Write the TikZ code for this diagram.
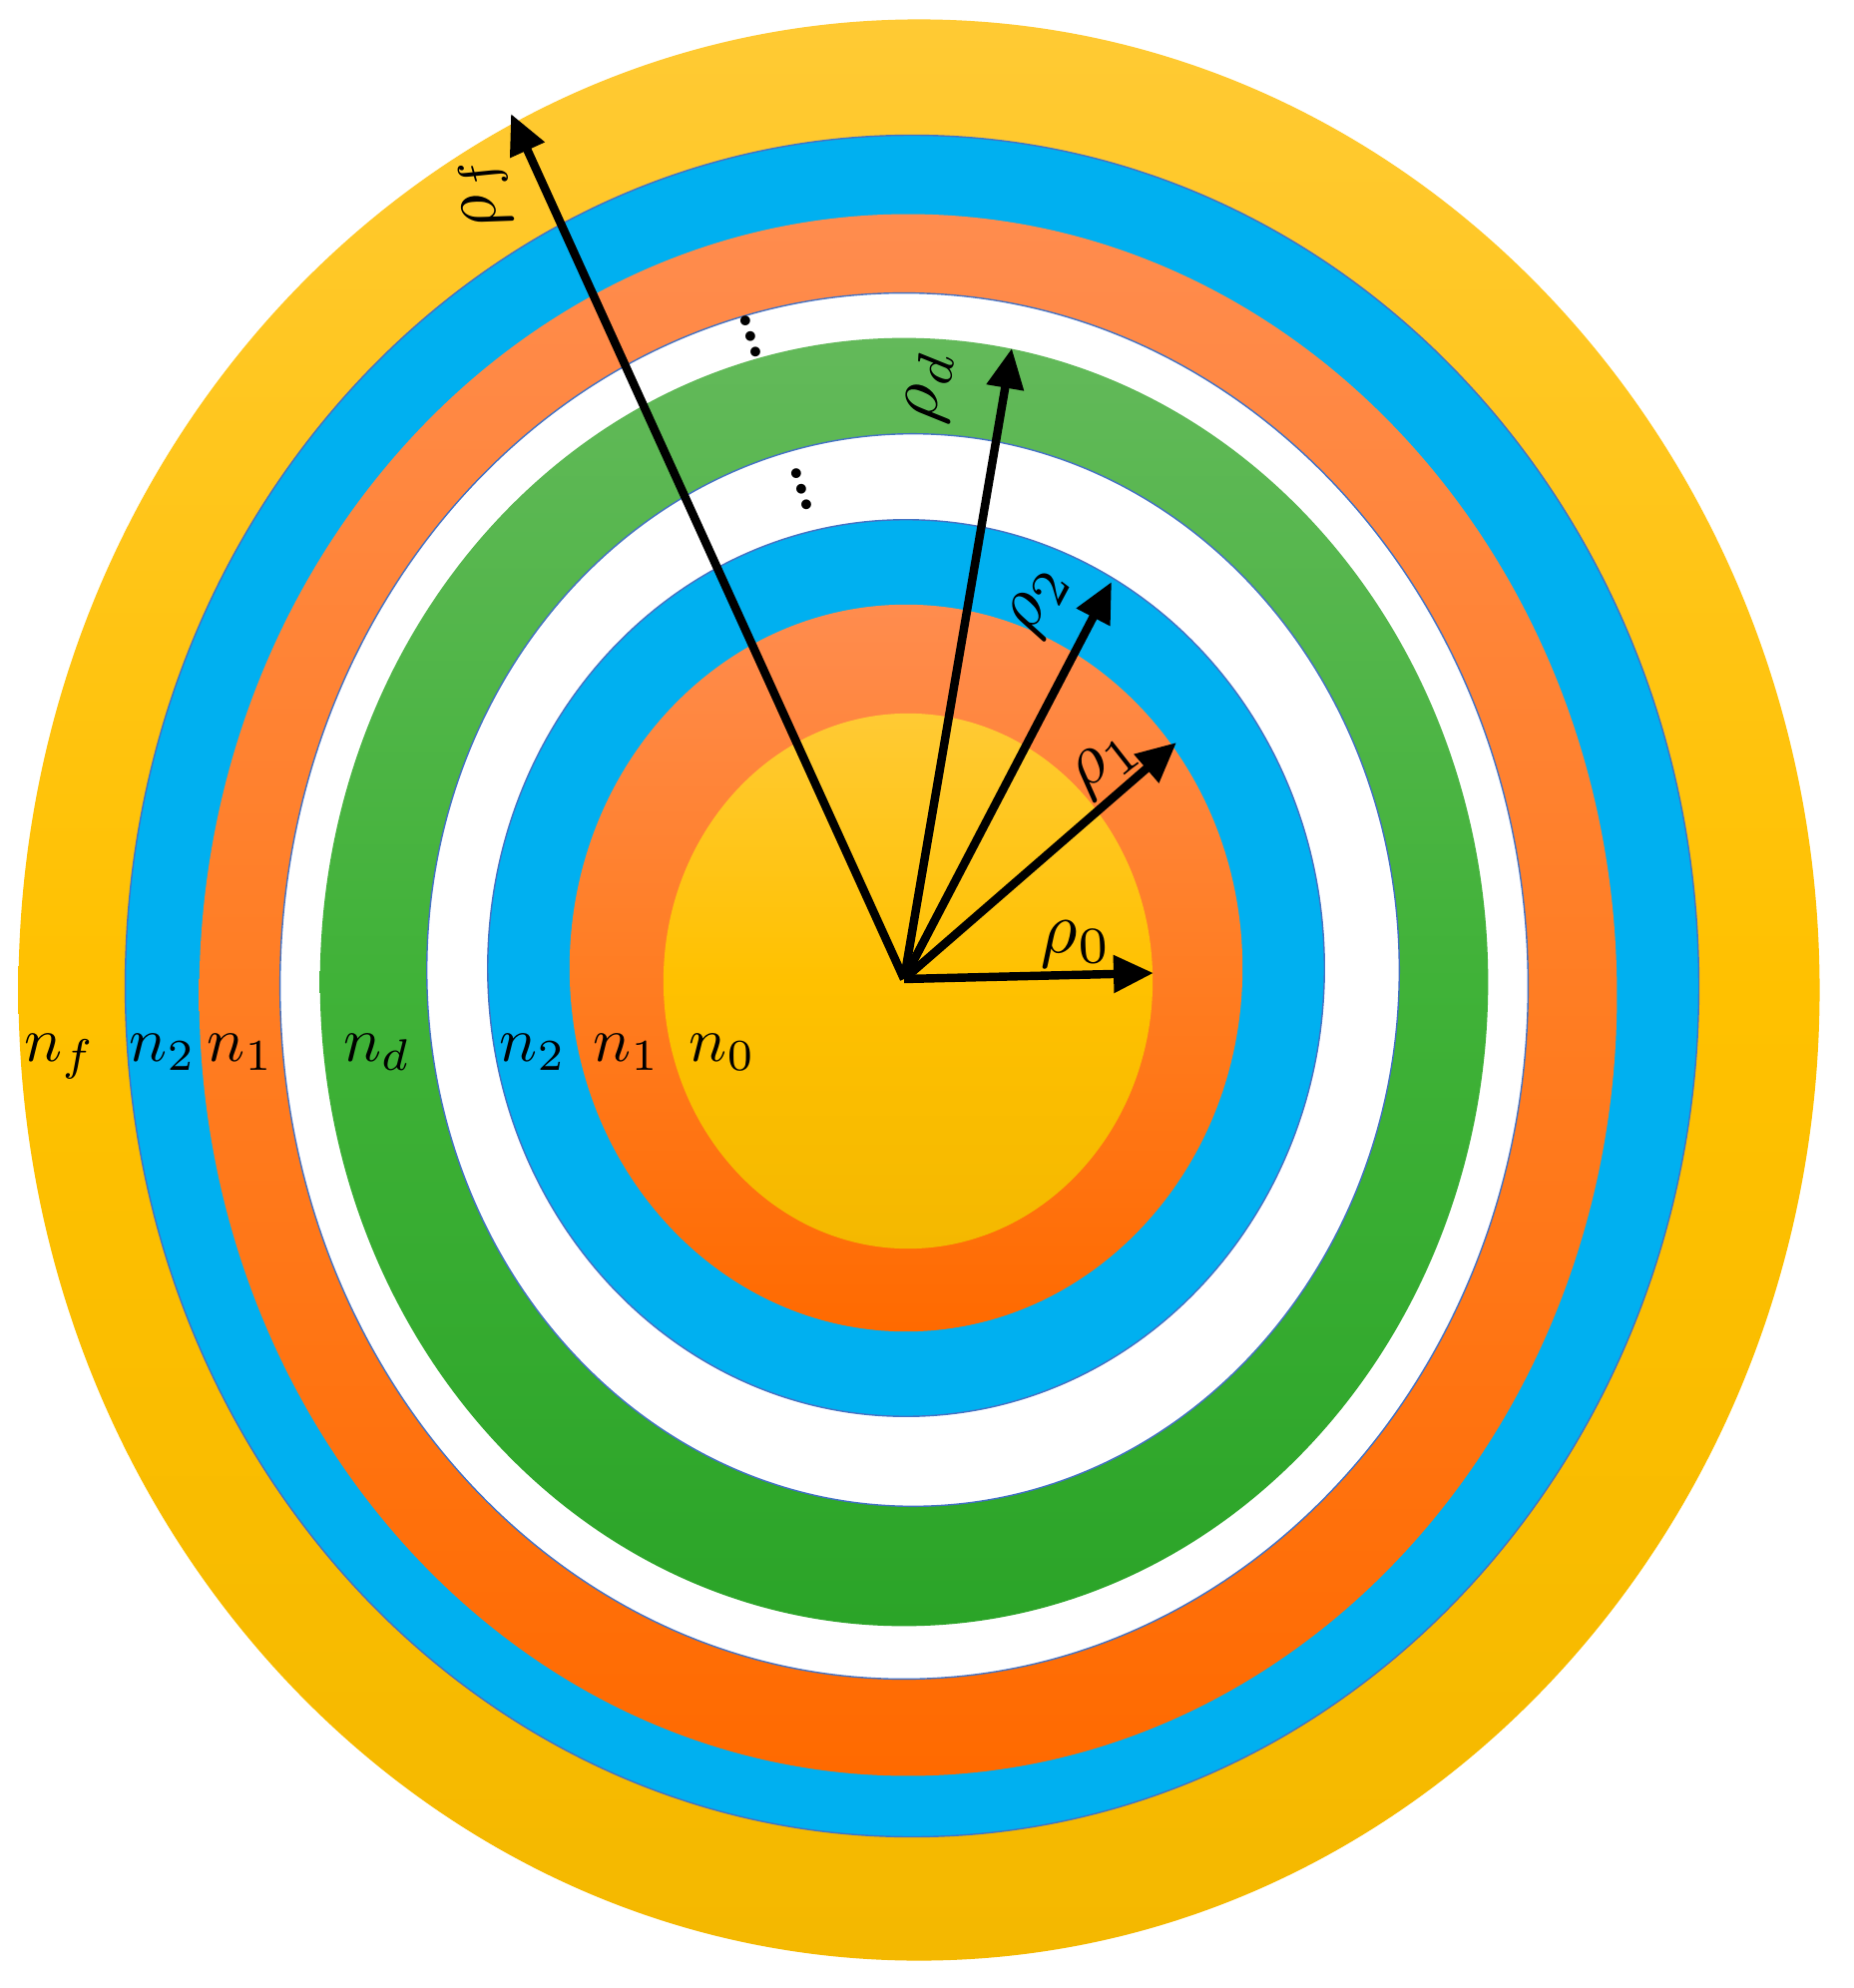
\documentclass[tikz,border=0pt]{standalone}
\usetikzlibrary{arrows.meta}
\definecolor{yTop}{RGB}{255,202,52}
\definecolor{yMid}{RGB}{255,193,0}
\definecolor{yBot}{RGB}{244,184,0}
\definecolor{oTop}{RGB}{255,140,78}
\definecolor{oMid}{RGB}{255,125,35}
\definecolor{oBot}{RGB}{255,106,0}
\definecolor{gTop}{RGB}{99,185,90}
\definecolor{gMid}{RGB}{64,178,56}
\definecolor{gBot}{RGB}{43,164,40}
\definecolor{cyanB}{RGB}{0,176,240}
\definecolor{edgeB}{RGB}{68,114,196}
\begin{document}
\begin{tikzpicture}[x=0.01cm,y=-0.01cm,
  yellowband/.style={top color=yTop, bottom color=yBot, middle color=yMid},
  orangeband/.style={top color=oTop, bottom color=oBot, middle color=oMid},
  greenband/.style={top color=gTop, bottom color=gBot, middle color=gMid},
  blueband/.style={fill=cyanB, draw=edgeB, line width=0.4pt},
  whiteband/.style={fill=white, draw=edgeB, line width=0.4pt},
  vec/.style={line width=2.4pt, -{Triangle[length=0.4cm,width=0.36cm]}},
  nlab/.style={scale=1.8, anchor=base, inner sep=0pt},
  rlab/.style={scale=2.1, inner sep=0pt},
  dotlab/.style={font=\bfseries, scale=1.8, inner sep=0pt}]
\useasboundingbox (0,0) rectangle (1857,1992);
% rings, outermost first
\path[yellowband] (921,992) ellipse [x radius=9.02cm, y radius=9.72cm];
\path[blueband]   (914,988) ellipse [x radius=7.88cm, y radius=8.52cm];
\path[orangeband] (910,997) ellipse [x radius=7.10cm, y radius=7.82cm];
\path[whiteband]  (906,988) ellipse [x radius=6.25cm, y radius=6.94cm];
\path[greenband]  (906,984) ellipse [x radius=5.85cm, y radius=6.45cm];
\path[whiteband]  (915,972) ellipse [x radius=4.87cm, y radius=5.37cm];
\path[blueband]   (908,970) ellipse [x radius=4.19cm, y radius=4.49cm];
\path[orangeband] (908,970) ellipse [x radius=3.37cm, y radius=3.64cm];
\path[yellowband] (910,983) ellipse [x radius=2.45cm, y radius=2.68cm];
% arrows
\coordinate (O) at (906,981);
\coordinate (tf) at (512,114);
\coordinate (td) at (1014,349);
\coordinate (t2) at (1114,583);
\coordinate (t1) at (1179,744);
\coordinate (t0) at (1156,975);
\draw[vec] (O) -- (tf);
\draw[vec] (O) -- (td);
\draw[vec] (O) -- (t2);
\draw[vec] (O) -- (t1);
\draw[vec] (O) -- (t0);
% arrow labels
\node[rlab, rotate=106] (lf) at (486,192) {$\rho_f$};
\node[rlab, rotate=82]  (ld) at (933,388) {$\rho_d$};
\node[rlab, rotate=62]  (l2) at (1042,603) {$\rho_2$};
\node[rlab, rotate=38]  (l1) at (1108,766) {$\rho_1$};
\node[rlab, rotate=2]   (l0) at (1078,946) {$\rho_0$};
% dots
\node[dotlab, rotate=-72] (d1) at (752,337) {\ldots};
\node[dotlab, rotate=-72] (d2) at (803,490) {\ldots};
% index labels
\node[nlab] (nf)  at (60,1063)  {$n_f$};
\node[nlab] (n2o) at (163,1063) {$n_2$};
\node[nlab] (n1o) at (241,1063) {$n_1$};
\node[nlab] (nd)  at (378,1063) {$n_d$};
\node[nlab] (n2i) at (534,1063) {$n_2$};
\node[nlab] (n1i) at (628,1063) {$n_1$};
\node[nlab] (n0)  at (724,1063) {$n_0$};
\end{tikzpicture}
\end{document}
